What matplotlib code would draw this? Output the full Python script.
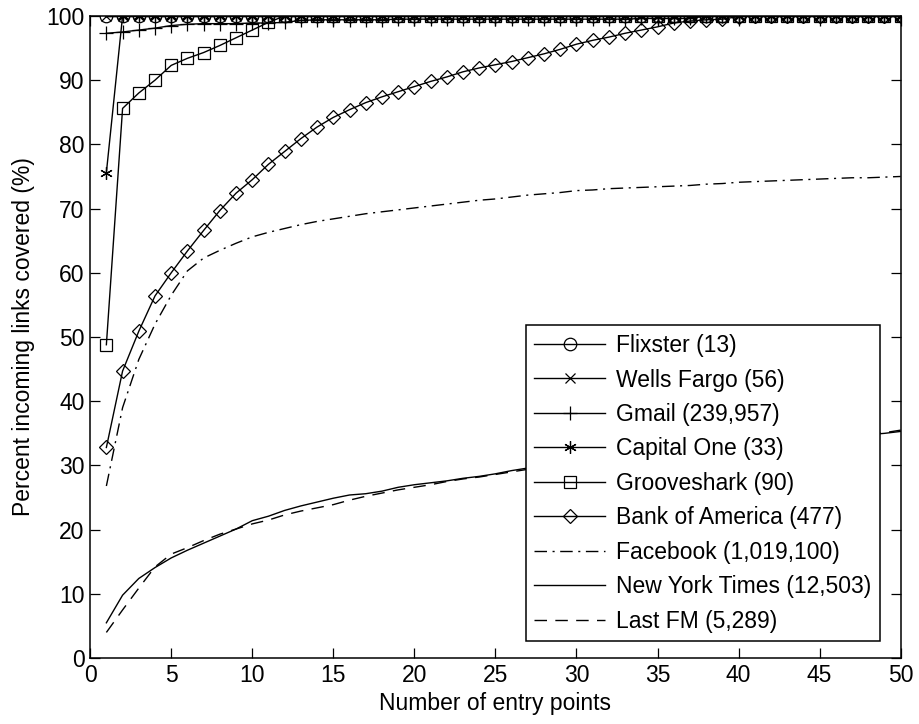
import matplotlib
matplotlib.use("Agg")
import matplotlib.pyplot as plt

plt.rcParams['font.family'] = ['Liberation Sans', 'DejaVu Sans']

# entry points 1..50
x = list(range(1, 51))

flixster = [100.0] * 50
wells_fargo = [100.0] * 50
gmail = [97.3, 97.5, 97.8, 98.1, 98.5, 98.7, 98.8, 98.8, 98.8, 98.9,
         98.9, 99.0, 99.3, 99.4, 99.4, 99.4, 99.4, 99.4, 99.5, 99.5,
         99.5, 99.5, 99.5, 99.5, 99.5, 99.5, 99.5, 99.5, 99.5, 99.5,
         99.5, 99.5, 99.5, 99.6, 99.6, 99.6, 99.6, 100, 100, 100,
         100, 100, 100, 100, 100, 100, 100, 100, 100, 100]
capital_one = [75.6] + [100.0] * 49
grooveshark = [48.8, 85.6, 88.0, 90.0, 92.3, 93.4, 94.3, 95.4, 96.6, 97.8,
               99.0, 100, 100, 100, 100, 100, 100, 100, 100, 100,
               100, 100, 100, 100, 100, 100, 100, 100, 100, 100,
               100, 100, 100, 100, 100, 100, 100, 100, 100, 100,
               100, 100, 100, 100, 100, 100, 100, 100, 100, 100]
bank_of_america = [32.8, 44.7, 50.9, 56.4, 60.0, 63.4, 66.6, 69.7, 72.4, 74.5,
                   76.9, 78.9, 80.9, 82.7, 84.2, 85.4, 86.5, 87.4, 88.2, 89.0,
                   89.8, 90.5, 91.3, 91.9, 92.4, 92.9, 93.5, 94.1, 94.8, 95.6,
                   96.2, 96.7, 97.3, 97.8, 98.3, 98.9, 99.2, 99.4, 99.5, 99.9,
                   100, 100, 100, 100, 100, 100, 100, 100, 100, 100]
facebook = [26.8, 39.0, 46.5, 52.0, 56.5, 60.3, 62.3, 63.5, 64.6, 65.6,
            66.3, 66.9, 67.5, 68.0, 68.4, 68.8, 69.2, 69.5, 69.8, 70.1,
            70.4, 70.7, 71.0, 71.3, 71.5, 71.8, 72.1, 72.3, 72.5, 72.8,
            72.9, 73.1, 73.2, 73.3, 73.4, 73.5, 73.6, 73.8, 73.9, 74.1,
            74.2, 74.3, 74.4, 74.5, 74.6, 74.7, 74.8, 74.8, 74.9, 75.0]
new_york_times = [5.5, 9.8, 12.4, 14.1, 15.6, 16.8, 17.9, 19.0, 20.1, 21.4,
                  22.1, 23.0, 23.7, 24.3, 24.9, 25.4, 25.6, 26.0, 26.6, 27.0,
                  27.3, 27.6, 28.0, 28.3, 28.7, 29.2, 29.6, 30.0, 30.3, 30.7,
                  31.0, 31.3, 31.6, 31.9, 32.2, 32.4, 32.6, 32.8, 33.0, 33.2,
                  33.4, 33.6, 33.8, 34.0, 34.2, 34.4, 34.6, 34.8, 35.0, 35.3]
last_fm = [4.0, 7.5, 10.9, 14.2, 16.2, 17.2, 18.3, 19.3, 20.1, 20.9,
           21.5, 22.3, 22.9, 23.4, 23.9, 24.6, 25.2, 25.7, 26.2, 26.6,
           27.0, 27.5, 27.9, 28.2, 28.6, 29.0, 29.4, 29.8, 30.2, 30.5,
           30.8, 31.1, 31.4, 31.7, 32.0, 32.3, 32.6, 32.8, 33.0, 33.3,
           33.5, 33.7, 33.9, 34.1, 34.3, 34.5, 34.7, 34.9, 35.1, 35.5]

labels = ['Flixster (13)', 'Wells Fargo (56)', 'Gmail (239,957)',
          'Capital One (33)', 'Grooveshark (90)', 'Bank of America (477)',
          'Facebook (1,019,100)', 'New York Times (12,503)', 'Last FM (5,289)']

fig = plt.figure(figsize=(9.2, 7.24), dpi=100)
ax = fig.add_axes([0.098, 0.091, 0.881, 0.887])

lw = 1.0
ms = 9
mk = dict(color='black', linewidth=lw, markersize=ms, markerfacecolor='none',
          markeredgewidth=0.9)

ax.plot(x, flixster, marker='o', label=labels[0], **mk)
ax.plot(x, wells_fargo, marker='x', label=labels[1], **dict(mk, markersize=7))
ax.plot(x, gmail, marker='+', label=labels[2], **dict(mk, markersize=10))
ax.plot(x, capital_one, marker=(6, 2, 0), label=labels[3], **mk)
ax.plot(x, grooveshark, marker='s', label=labels[4], **mk)
ax.plot(x, bank_of_america, marker='D', label=labels[5],
        **dict(mk, markersize=7.5))
ax.plot(x, facebook, color='black', linewidth=lw, dashes=(9, 4, 1.5, 4),
        label=labels[6])
ax.plot(x, new_york_times, color='black', linewidth=lw, label=labels[7])
ax.plot(x, last_fm, color='black', linewidth=lw, dashes=(9, 6), label=labels[8])

ax.set_xlim(0, 50)
ax.set_ylim(0, 100)
ax.set_xticks(range(0, 51, 5))
ax.set_yticks(range(0, 101, 10))
ax.tick_params(direction='in', top=True, right=True, labelsize=16.5,
               length=7, width=0.9, pad=4)
for s in ax.spines.values():
    s.set_linewidth(1.1)

ax.set_xlabel('Number of entry points', fontsize=16.5, labelpad=4)
ax.set_ylabel('Percent incoming links covered (%)', fontsize=16.5, labelpad=8)

leg = ax.legend(loc='lower right', bbox_to_anchor=(0.974, 0.026),
                fontsize=16.5, fancybox=False, edgecolor='black', framealpha=1,
                handlelength=3.1, labelspacing=0.5, borderpad=0.38,
                handletextpad=0.45, borderaxespad=0)
leg.get_frame().set_linewidth(1.1)

fig.savefig('out.png', dpi=100)
